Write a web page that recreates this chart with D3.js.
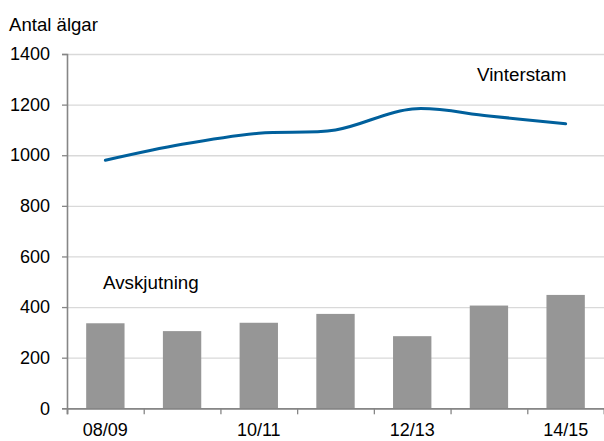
<!DOCTYPE html>
<html><head><meta charset="utf-8">
<script src="https://cdn.jsdelivr.net/npm/d3@7"></script>
<style>body{margin:0;background:#fff}svg{display:block;font-family:"Liberation Sans",Arial,sans-serif}</style>
</head><body><svg id="c" width="604" height="441"></svg>
<script>
const categories = ["08/09","09/10","10/11","11/12","12/13","13/14","14/15"];
const shownLabels = ["08/09","10/11","12/13","14/15"];
const avskjutning = [336, 305, 338, 373, 285, 406, 448];
const vinterstam = [980, 1043, 1087, 1100, 1183, 1155, 1124];
const yTicks = [0,200,400,600,800,1000,1200,1400];

const svg = d3.select("#c");
const L = 67, R = 604, T = 54, B = 408.3;
const x = d3.scaleBand().domain(categories).range([L,R]).paddingInner(0.5).paddingOuter(0.25);
const xb = d3.scaleLinear().domain([0,categories.length]).range([L,R]);
const y = d3.scaleLinear().domain([0,1400]).range([B,T]);

// gridlines
const grid = svg.append("g").attr("transform",`translate(${L},0)`)
  .call(d3.axisRight(y).tickValues(yTicks).tickSize(R-L).tickFormat(""));
grid.select(".domain").remove();
grid.selectAll("line").attr("stroke","#d9d9d9").attr("stroke-width",1.3);

// bars
svg.append("g").selectAll("rect").data(avskjutning).join("rect")
  .attr("x",(d,i)=>x(categories[i])).attr("width",x.bandwidth())
  .attr("y",d=>y(d)).attr("height",d=>B-y(d)).attr("fill","#969696");

// line
svg.append("path").datum(vinterstam)
  .attr("d", d3.line().x((d,i)=>x(categories[i])+x.bandwidth()/2).y(d=>y(d)).curve(d3.curveCatmullRom.alpha(0.5)))
  .attr("fill","none").attr("stroke","#00609c").attr("stroke-width",3).attr("stroke-linecap","round");

// y axis
const ya = svg.append("g").attr("transform",`translate(${L},0)`)
  .call(d3.axisLeft(y).tickValues(yTicks).tickSize(5).tickPadding(12).tickFormat(d3.format("d")));
ya.select(".domain").attr("stroke","#868686").attr("stroke-width",1.6);
ya.selectAll("line").attr("stroke","#868686").attr("stroke-width",1.3);
ya.selectAll("text").attr("font-size",18).attr("fill","#000").attr("font-family","Liberation Sans, Arial, sans-serif");

// x axis boundary ticks
const xt = svg.append("g").attr("transform",`translate(0,${B})`)
  .call(d3.axisBottom(xb).tickValues(d3.range(categories.length+1)).tickSize(6).tickFormat(""));
xt.select(".domain").attr("stroke","#868686").attr("stroke-width",1.8);
xt.selectAll("line").attr("stroke","#868686").attr("stroke-width",1.3);

// x axis labels
const xl = svg.append("g").attr("transform",`translate(0,${B})`)
  .call(d3.axisBottom(x).tickValues(shownLabels).tickSize(0).tickPadding(15));
xl.select(".domain").remove();
xl.selectAll("text").attr("font-size",18).attr("fill","#000").attr("font-family","Liberation Sans, Arial, sans-serif");

// texts
svg.append("text").attr("x",9).attr("y",31).attr("font-size",18.6).text("Antal älgar");
svg.append("text").attr("x",477).attr("y",80.7).attr("font-size",18.8).text("Vinterstam");
svg.append("text").attr("x",103).attr("y",289).attr("font-size",18.8).text("Avskjutning");
</script></body></html>
